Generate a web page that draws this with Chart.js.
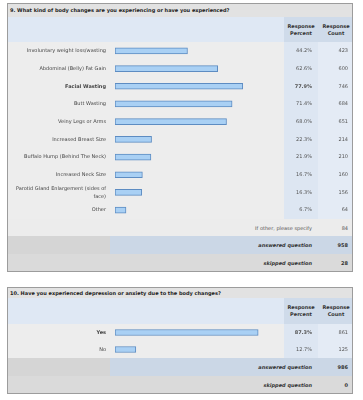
<!DOCTYPE html>
<html>
<head>
<meta charset="utf-8">
<script src="https://cdn.jsdelivr.net/npm/chart.js@4"></script>
<style>
body{margin:0;width:363px;height:400px;background:#fff;position:relative;overflow:hidden;font-family:"DejaVu Sans",Verdana,sans-serif;}
.bx{position:absolute;box-sizing:border-box;}
.t{position:absolute;white-space:nowrap;font-size:5px;color:#444;line-height:7px;}
canvas{position:absolute;}
</style>
</head>
<body>
<canvas id="c1" width="346" height="177" style="left:7px;top:42px"></canvas>
<canvas id="c2" width="346" height="34" style="left:7px;top:324px"></canvas>
<script>
const bodyQuestion = '9. What kind of body changes are you experiencing or have you experienced?';
const bodyLabels = ['Involuntary weight loss/wasting', 'Abdominal (Belly) Fat Gain', 'Facial Wasting', 'Butt Wasting',
  'Veiny Legs or Arms', 'Increased Breast Size', 'Buffalo Hump (Behind The Neck)', 'Increased Neck Size',
  ['Parotid Gland Enlargement (sides of', 'face)'], 'Other'];
const bodyPercent = [44.2, 62.6, 77.9, 71.4, 68.0, 22.3, 21.9, 16.7, 16.3, 6.7];
const bodyCount = [423, 600, 746, 684, 651, 214, 210, 160, 156, 64];
const bodyOther = 84;
const bodyAnswered = 958;
const bodySkipped = 28;

const moodQuestion = '10. Have you experienced depression or anxiety due to the body changes?';
const moodLabels = ['Yes', 'No'];
const moodPercent = [87.3, 12.7];
const moodCount = [861, 125];
const moodAnswered = 986;
const moodSkipped = 0;

const FONT = '"DejaVu Sans", Verdana, sans-serif';

function box(x, y, w, h, css) {
  const d = document.createElement('div');
  d.className = 'bx';
  d.style.cssText = `left:${x}px;top:${y}px;width:${w}px;height:${h}px;` + (css || '');
  document.body.insertBefore(d, document.body.firstChild);
  return d;
}
function text(str, x, y, align, css) {
  const d = document.createElement('div');
  d.className = 't';
  d.innerHTML = str;
  let tr = 'translateY(-50%)';
  if (align === 'right') tr += ' translateX(-100%)';
  if (align === 'center') { tr += ' translateX(-50%)'; d.style.textAlign = 'center'; }
  d.style.cssText += `left:${x}px;top:${y}px;transform:${tr};` + (css || '');
  document.body.appendChild(d);
}

// backgrounds and fixed texts of one question panel
function panel(top, titleH, headH, dataH, otherRow, question, answered, skipped, other) {
  let y = top;
  box(7, y, 346, titleH, 'background:#e2e2e2');
  text(question, 10, y + titleH / 2, 'left', 'font-weight:bold;color:#222;');
  y += titleH;
  box(7, y, 277, headH, 'background:#dfe8f4');
  box(284, y, 69, headH, 'background:#cfdbea');
  text('Response<br>Percent', 301, y + headH / 2, 'center', 'font-weight:bold;color:#333;');
  text('Response<br>Count', 336, y + headH / 2, 'center', 'font-weight:bold;color:#333;');
  y += headH;
  box(7, y, 277, dataH, 'background:#ededed');
  box(284, y, 34, dataH, 'background:#dde6f2');
  box(318, y, 35, dataH, 'background:#e4ebf5');
  y += dataH;
  if (otherRow) {
    box(7, y, 346, 17, 'background:#ececec');
    text('If other, please specify', 312, y + 8.5, 'right', 'color:#555;');
    text(String(other), 348, y + 8.5, 'right', 'color:#555;');
    y += 17;
  }
  box(7, y, 103, 18, 'background:#d5d5d5');
  box(110, y, 243, 18, 'background:#cbd7e6');
  text('answered question', 312, y + 9, 'right', 'font-weight:bold;font-style:italic;color:#333;');
  text(String(answered), 348, y + 9, 'right', 'font-weight:bold;color:#333;');
  y += 18;
  box(7, y, 346, 17, 'background:#dadada');
  text('skipped question', 312, y + 8.5, 'right', 'font-weight:bold;font-style:italic;color:#333;');
  text(String(skipped), 348, y + 8.5, 'right', 'font-weight:bold;color:#333;');
  y += 17;
  box(7, top, 346, y - top + 1, 'border:1px solid #9c9c9c;z-index:5;pointer-events:none');
}

panel(3, 14, 25, 177, true, bodyQuestion, bodyAnswered, bodySkipped, bodyOther);
panel(287, 11, 26, 34, false, moodQuestion, moodAnswered, moodSkipped, 0);

// percent and count columns, drawn on the rows of the y scale
const columnsPlugin = {
  id: 'columns',
  afterDatasetsDraw(chart, args, opts) {
    const ctx = chart.ctx;
    const y = chart.scales.y;
    ctx.save();
    ctx.textAlign = 'right';
    ctx.textBaseline = 'middle';
    opts.pct.forEach((p, i) => {
      const py = y.getPixelForValue(i);
      ctx.fillStyle = '#555';
      ctx.font = (i === opts.boldIndex ? 'bold ' : '') + '5px ' + FONT;
      ctx.fillText(p.toFixed(1) + '%', 305, py);
      ctx.font = '5px ' + FONT;
      ctx.fillText(String(opts.cnt[i]), 341, py);
    });
    ctx.restore();
  }
};

function makeChart(id, labels, pct, cnt) {
  const boldIndex = pct.indexOf(Math.max(...pct));
  return new Chart(document.getElementById(id), {
    type: 'bar',
    data: {
      labels: labels,
      datasets: [{
        data: pct,
        backgroundColor: '#a9d0f4',
        borderColor: '#5d8cc2',
        borderWidth: 1,
        borderSkipped: false,
        barThickness: 6
      }]
    },
    options: {
      indexAxis: 'y',
      responsive: false,
      animation: false,
      layout: {padding: {left: 0, right: 74, top: 0, bottom: 0}},
      plugins: {
        legend: {display: false},
        tooltip: {enabled: false},
        columns: {pct: pct, cnt: cnt, boldIndex: boldIndex}
      },
      scales: {
        x: {display: false, min: 0, max: 100},
        y: {
          grid: {display: false, drawTicks: false},
          border: {display: false},
          afterFit: (s) => { s.width = 108; s.paddingTop = 0; s.paddingBottom = 0; },
          ticks: {
            autoSkip: false,
            padding: 9,
            color: '#444',
            font: (c) => ({family: FONT, size: 5, weight: c.index === boldIndex ? 'bold' : 'normal', lineHeight: 1.6})
          }
        }
      }
    },
    plugins: [columnsPlugin]
  });
}

makeChart('c1', bodyLabels, bodyPercent, bodyCount);
makeChart('c2', moodLabels, moodPercent, moodCount);
</script>
</body>
</html>
